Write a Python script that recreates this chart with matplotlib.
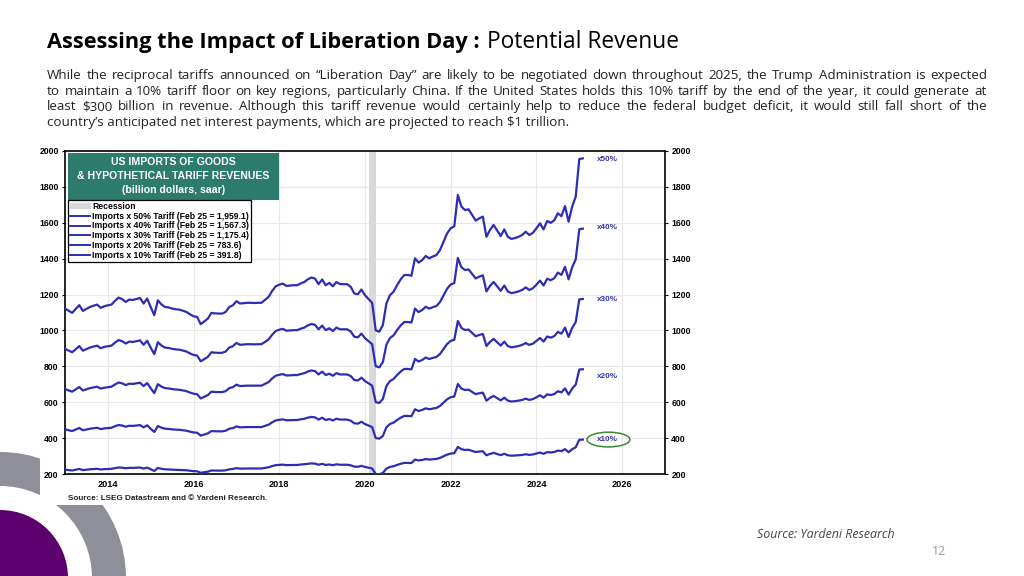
import numpy as np
import matplotlib
matplotlib.use("Agg")
import matplotlib.pyplot as plt
from matplotlib.patches import Wedge, Rectangle, Ellipse, Patch
from matplotlib.lines import Line2D

# US imports of goods, billion dollars saar, Jan 2013 .. Feb 2025 (x2)
half_imports = [
    1122, 1110, 1098, 1120, 1141, 1109, 1120, 1131, 1138, 1144, 1126, 1135,  # 2013
    1140, 1144, 1165, 1183, 1175, 1159, 1172, 1170, 1175, 1181, 1150, 1178,  # 2014
    1130, 1085, 1168, 1145, 1131, 1128, 1122, 1118, 1116, 1110, 1103, 1090,  # 2015
    1079, 1075, 1035, 1050, 1066, 1098, 1095, 1094, 1094, 1103, 1131, 1140,  # 2016
    1163, 1150, 1152, 1154, 1154, 1153, 1154, 1154, 1170, 1187, 1220, 1246,  # 2017
    1255, 1261, 1248, 1250, 1252, 1252, 1262, 1270, 1285, 1295, 1289, 1258,  # 2018
    1284, 1252, 1265, 1246, 1270, 1258, 1258, 1258, 1243, 1206, 1202, 1228,  # 2019
    1196, 1175, 1154, 1001, 993, 1030, 1151, 1197, 1216, 1253, 1285, 1309,   # 2020
    1309, 1305, 1402, 1378, 1392, 1415, 1402, 1412, 1420, 1448, 1495, 1541,  # 2021
    1570, 1580, 1755, 1690, 1671, 1675, 1643, 1612, 1625, 1634, 1522, 1560,  # 2022
    1588, 1557, 1526, 1563, 1522, 1510, 1515, 1522, 1532, 1550, 1532, 1544,  # 2023
    1569, 1597, 1563, 1610, 1600, 1614, 1653, 1637, 1693, 1606, 1690, 1745,  # 2024
    1955, 1959.1,                                                            # 2025
]
imports = np.array(half_imports) * 2
dates = 2013 + np.arange(len(imports)) / 12

tariff_rates = [0.5, 0.4, 0.3, 0.2, 0.1]
legend_labels = [
    "Imports x 50% Tariff (Feb 25 = 1,959.1)",
    "Imports x 40% Tariff (Feb 25 = 1,567.3)",
    "Imports x 30% Tariff (Feb 25 = 1,175.4)",
    "Imports x 20% Tariff (Feb 25 = 783.6)",
    "Imports x 10% Tariff (Feb 25 = 391.8)",
]
end_labels = ["x50%", "x40%", "x30%", "x20%", "x10%"]
end_label_y = [1955, 1576, 1175, 746, 395]
recession = (2020.083, 2020.25)

title_bold = "Assessing the Impact of Liberation Day :"
title_rest = "Potential Revenue"
body_lines = [
    "While the reciprocal tariffs announced on \u201cLiberation Day\u201d are likely to be negotiated down throughout 2025, the Trump Administration is expected",
    "to maintain a 10% tariff floor on key regions, particularly China. If the United States holds this 10% tariff by the end of the year, it could generate at",
    "least \\$300 billion in revenue. Although this tariff revenue would certainly help to reduce the federal budget deficit, it would still fall short of the",
    "country\u2019s anticipated net interest payments, which are projected to reach \\$1 trillion.",
]

W, H = 1024, 576
LINE = "#2d2db4"
SLIDE_FONT = "Open Sans"
CHART_FONT = "Liberation Sans"


def fx(x):
    return x / W


def fy(y):
    return 1 - y / H


fig = plt.figure(figsize=(W / 100, H / 100), dpi=100)
renderer = fig.canvas.get_renderer()


def text_width(s, **kw):
    t = fig.text(0, 0, s, **kw)
    w = t.get_window_extent(renderer).width
    t.remove()
    return w


def fitted_size(s, target, **kw):
    return 10 * target / text_width(s, fontsize=10, **kw)


# background decoration (pixel coordinates)
bg = fig.add_axes([0, 0, 1, 1])
bg.set_xlim(0, W)
bg.set_ylim(H, 0)
bg.axis("off")
bg.add_patch(Wedge((0, 578), 126, 270, 360, width=34, color="#8f8f99", lw=0))
bg.add_patch(Wedge((0, 578), 68, 270, 360, color="#5b006e", lw=0))
bg.add_patch(Rectangle((40, 143), 655, 362, color="white", lw=0))

# chart
ax = fig.add_axes([fx(65), fy(474), 600 / W, 323 / H])
ax.axvspan(*recession, color="#d9d9d9", lw=0, zorder=1)
for rate in tariff_rates:
    ax.plot(dates, imports * rate, color=LINE, lw=1.6, zorder=3,
            solid_joinstyle="round")

ax.set_xlim(2013, 2027)
ax.set_ylim(200, 2000)
ax.set_xticks(range(2014, 2027, 2))
ax.set_yticks(range(200, 2001, 200))
ax.grid(True, color="#e8e8e8", lw=0.8, zorder=0)
ax.set_axisbelow(True)
for s in ax.spines.values():
    s.set_linewidth(1.2)
    s.set_color("black")
ax.tick_params(axis="y", left=True, right=True, labelleft=True, labelright=True,
               length=2.5, width=0.8, pad=2)
ax.tick_params(axis="x", length=0, pad=4)
for lab in ax.get_xticklabels():
    lab.set_fontfamily(CHART_FONT)
    lab.set_fontweight("bold")
    lab.set_fontsize(6.6)
for t in ax.yaxis.get_major_ticks():
    for lab in (t.label1, t.label2):
        lab.set_fontfamily(CHART_FONT)
        lab.set_fontweight("bold")
        lab.set_fontsize(6.2)

for lab, yv in zip(end_labels, end_label_y):
    ax.text(2025.65, yv, lab, color="#3535b0", fontsize=5.9, fontweight="bold",
            family=CHART_FONT, ha="center", va="center")
ax.add_patch(Ellipse((2025.68, 392), 1.0, 82, fill=False, ec="#3d8a2e", lw=1.1,
                     zorder=4))

# title box + legend
ov = fig.add_axes([0, 0, 1, 1], zorder=5)
ov.set_xlim(0, W)
ov.set_ylim(H, 0)
ov.axis("off")
ov.patch.set_alpha(0)
ov.add_patch(Rectangle((68, 153), 211, 47, color="#2d7b6b", lw=0))
for txt, yy in [("US IMPORTS OF GOODS", 162), ("& HYPOTHETICAL TARIFF REVENUES", 176),
                ("(billion dollars, saar)", 190)]:
    ov.text(173.5, yy, txt, color="white", fontsize=7.6, fontweight="bold",
            family=CHART_FONT, ha="center", va="center")

handles = [Patch(color="#d9d9d9")] + [Line2D([], [], color=LINE, lw=1.4) for _ in tariff_rates]
leg = fig.legend(handles, ["Recession"] + legend_labels, loc="upper left",
                 bbox_to_anchor=(fx(68), fy(200)), bbox_transform=fig.transFigure,
                 prop={"family": CHART_FONT, "weight": "bold", "size": 6.2},
                 frameon=True, fancybox=False, edgecolor="black", framealpha=1,
                 borderpad=0.2, labelspacing=0.1, handlelength=2.3,
                 handleheight=0.6, handletextpad=0.3, borderaxespad=0)
leg.get_frame().set_linewidth(0.9)
leg.set_zorder(6)

fig.text(fx(68), fy(498), "Source: LSEG Datastream and \u00a9 Yardeni Research.",
         family=CHART_FONT, fontweight="bold", fontsize=5.9, color="#222222",
         va="center")

# slide title (one size for both parts)
size_b = fitted_size(title_bold, 435, family=SLIDE_FONT, fontweight="bold")
fig.text(fx(47), fy(48), title_bold, family=SLIDE_FONT, fontweight="bold",
         fontsize=size_b, color="black")
fig.text(fx(487), fy(48), title_rest, family=SLIDE_FONT, fontsize=size_b * 1.04,
         color="black")

# body text, justified
body_size = min(fitted_size(body_lines[-1], 558, family=SLIDE_FONT),
                fitted_size(body_lines[0], 915, family=SLIDE_FONT))
body_kw = dict(family=SLIDE_FONT, fontsize=body_size, color="#222222")
for i, line in enumerate(body_lines):
    yb = 79 + i * 15.6
    if i == len(body_lines) - 1:
        fig.text(fx(47), fy(yb), line, **body_kw)
        continue
    words = line.split()
    texts = [fig.text(0, 0, w, **body_kw) for w in words]
    widths = [t.get_window_extent(renderer).width for t in texts]
    gap = (987 - 47 - sum(widths)) / (len(words) - 1)
    xx = 47
    for t, w in zip(texts, widths):
        t.set_position((fx(xx), fy(yb)))
        xx += w + gap

src_size = fitted_size("Source: Yardeni Research", 138, family=SLIDE_FONT, style="italic")
fig.text(fx(757), fy(538), "Source: Yardeni Research", family=SLIDE_FONT,
         style="italic", fontsize=src_size, color="#444444")
fig.text(fx(932), fy(555), "12", family=SLIDE_FONT, fontsize=9, color="#9a9a9a")

fig.savefig("out.png", dpi=100)
